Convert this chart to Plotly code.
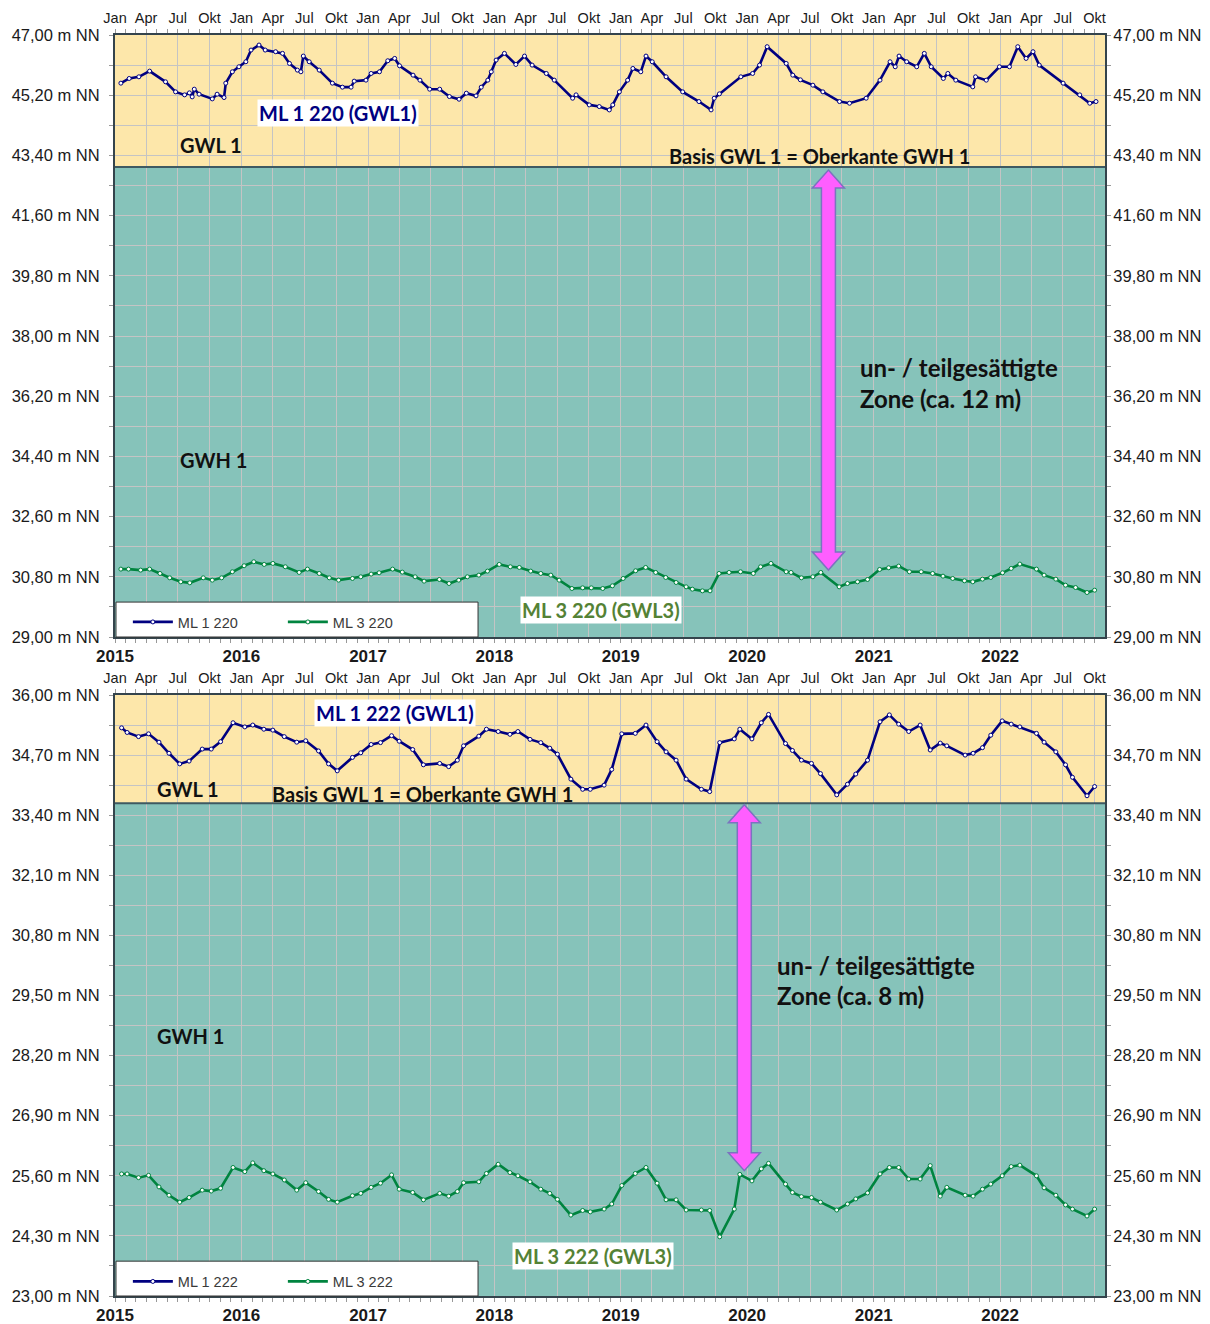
import pandas as pd
import plotly.graph_objects as go

# ---------------------------------------------------------------- data
# Messstelle 220: GWL 1 (ML 1 220, dichte Messreihe) und GWL 3 (ML 3 220, monatlich)
ml1_220_dates = [
    "2015-01-18", "2015-02-11", "2015-03-11", "2015-04-11", "2015-05-27", "2015-06-25",
    "2015-07-21", "2015-08-04", "2015-08-12", "2015-08-18", "2015-09-01", "2015-10-09",
    "2015-10-23", "2015-11-12", "2015-11-17", "2015-12-06", "2015-12-25", "2016-01-14",
    "2016-01-29", "2016-02-21", "2016-03-10", "2016-04-09", "2016-04-29", "2016-05-19",
    "2016-06-11", "2016-06-21", "2016-06-28", "2016-07-15", "2016-08-13", "2016-09-20",
    "2016-10-19", "2016-11-13", "2016-11-22", "2016-12-26", "2017-01-10", "2017-02-03",
    "2017-02-27", "2017-03-19", "2017-04-02", "2017-05-11", "2017-05-31", "2017-06-28",
    "2017-07-27", "2017-08-24", "2017-09-21", "2017-10-12", "2017-11-09", "2017-11-24",
    "2017-12-13", "2017-12-23", "2018-01-06", "2018-01-30", "2018-03-04", "2018-03-29",
    "2018-04-20", "2018-05-31", "2018-06-23", "2018-08-15", "2018-08-25", "2018-10-02",
    "2018-10-31", "2018-11-29", "2018-12-09", "2018-12-28", "2019-01-21", "2019-02-05",
    "2019-02-28", "2019-03-15", "2019-04-02", "2019-05-12", "2019-06-29", "2019-08-15",
    "2019-09-19", "2019-09-28", "2019-10-13", "2019-12-14", "2020-01-17", "2020-02-06",
    "2020-02-28", "2020-04-23", "2020-05-12", "2020-06-03", "2020-07-09", "2020-08-07",
    "2020-09-24", "2020-10-23", "2020-12-10", "2021-01-19", "2021-02-17", "2021-03-04",
    "2021-03-15", "2021-04-06", "2021-05-05", "2021-05-27", "2021-06-16", "2021-07-21",
    "2021-08-03", "2021-08-26", "2021-10-14", "2021-10-22", "2021-11-22", "2021-12-30",
    "2022-01-28", "2022-02-21", "2022-03-17", "2022-04-06", "2022-04-24", "2022-07-02",
    "2022-08-19", "2022-09-17", "2022-10-05",
]
ml1_220_values = [
    45.56, 45.70, 45.75, 45.92, 45.60, 45.30,
    45.21, 45.27, 45.15, 45.38, 45.23, 45.09,
    45.23, 45.13, 45.56, 45.90, 46.05, 46.20,
    46.55, 46.70, 46.55, 46.50, 46.45, 46.15,
    45.95, 45.90, 46.37, 46.20, 45.95, 45.56,
    45.44, 45.44, 45.62, 45.65, 45.85, 45.90,
    46.23, 46.30, 46.08, 45.80, 45.65, 45.38,
    45.38, 45.16, 45.08, 45.26, 45.18, 45.44,
    45.65, 45.90, 46.25, 46.45, 46.12, 46.37,
    46.10, 45.85, 45.65, 45.11, 45.21, 44.91,
    44.86, 44.76, 44.91, 45.30, 45.65, 46.00,
    45.90, 46.37, 46.20, 45.75, 45.30, 45.01,
    44.76, 45.11, 45.24, 45.75, 45.85, 46.10,
    46.65, 46.15, 45.80, 45.66, 45.50, 45.30,
    45.01, 44.96, 45.11, 45.65, 46.20, 46.05,
    46.37, 46.20, 46.05, 46.45, 46.05, 45.70,
    45.85, 45.65, 45.45, 45.75, 45.65, 46.05,
    46.05, 46.65, 46.30, 46.50, 46.10, 45.56,
    45.21, 44.96, 45.01,
]

ml3_220_dates = [
    "2015-01-18", "2015-02-09", "2015-03-16", "2015-04-11", "2015-05-11", "2015-06-08",
    "2015-07-10", "2015-08-05", "2015-09-13", "2015-10-09", "2015-11-05", "2015-12-06",
    "2016-01-09", "2016-02-06", "2016-03-07", "2016-04-01", "2016-05-07", "2016-06-16",
    "2016-07-10", "2016-08-13", "2016-09-11", "2016-10-08", "2016-11-17", "2016-12-11",
    "2017-01-10", "2017-02-02", "2017-03-13", "2017-04-10", "2017-05-17", "2017-06-12",
    "2017-07-26", "2017-08-23", "2017-09-20", "2017-10-15", "2017-11-17", "2017-12-12",
    "2018-01-15", "2018-02-16", "2018-03-14", "2018-04-16", "2018-05-15", "2018-06-13",
    "2018-07-07", "2018-08-13", "2018-09-13", "2018-10-08", "2018-11-10", "2018-12-08",
    "2019-01-08", "2019-02-13", "2019-03-14", "2019-04-12", "2019-05-11", "2019-06-10",
    "2019-07-09", "2019-07-27", "2019-08-25", "2019-09-16", "2019-10-12", "2019-11-10",
    "2019-12-13", "2020-01-19", "2020-02-09", "2020-03-10", "2020-04-23", "2020-05-07",
    "2020-06-06", "2020-07-09", "2020-08-01", "2020-09-23", "2020-10-17", "2020-11-15",
    "2020-12-14", "2021-01-18", "2021-02-13", "2021-03-14", "2021-04-14", "2021-05-18",
    "2021-06-20", "2021-07-20", "2021-08-17", "2021-09-20", "2021-10-14", "2021-11-11",
    "2021-12-05", "2022-01-08", "2022-02-02", "2022-02-27", "2022-04-16", "2022-05-08",
    "2022-06-11", "2022-07-09", "2022-08-07", "2022-09-09", "2022-10-01",
]
ml3_220_values = [
    31.03, 31.03, 31.00, 31.03, 30.90, 30.77,
    30.65, 30.62, 30.77, 30.70, 30.77, 30.95,
    31.13, 31.25, 31.17, 31.20, 31.10, 30.93,
    31.03, 30.90, 30.77, 30.70, 30.75, 30.80,
    30.88, 30.92, 31.03, 30.94, 30.80, 30.67,
    30.72, 30.60, 30.70, 30.80, 30.85, 30.97,
    31.17, 31.10, 31.08, 30.97, 30.90, 30.85,
    30.70, 30.45, 30.47, 30.47, 30.45, 30.53,
    30.75, 30.98, 31.08, 30.93, 30.78, 30.63,
    30.50, 30.43, 30.38, 30.38, 30.90, 30.93,
    30.95, 30.90, 31.10, 31.20, 30.95, 30.93,
    30.77, 30.80, 30.93, 30.50, 30.60, 30.65,
    30.72, 31.02, 31.07, 31.12, 30.95, 30.95,
    30.90, 30.82, 30.75, 30.68, 30.65, 30.73,
    30.78, 30.92, 31.05, 31.18, 31.03, 30.85,
    30.73, 30.55, 30.48, 30.33, 30.40,
]

# Messstelle 222: gemeinsame Stichtage für GWL 1 und GWL 3
ml_222_dates = [
    "2015-01-20", "2015-02-05", "2015-03-10", "2015-04-08", "2015-05-08", "2015-06-06",
    "2015-07-07", "2015-08-03", "2015-09-10", "2015-10-06", "2015-11-02", "2015-12-08",
    "2016-01-11", "2016-02-03", "2016-03-06", "2016-04-01", "2016-05-04", "2016-06-09",
    "2016-07-05", "2016-08-11", "2016-09-09", "2016-10-04", "2016-11-17", "2016-12-11",
    "2017-01-10", "2017-02-06", "2017-03-10", "2017-04-01", "2017-05-10", "2017-06-10",
    "2017-07-27", "2017-08-22", "2017-09-16", "2017-10-04", "2017-11-17", "2017-12-09",
    "2018-01-12", "2018-02-15", "2018-03-10", "2018-04-14", "2018-05-15", "2018-06-10",
    "2018-07-02", "2018-08-10", "2018-09-13", "2018-10-05", "2018-11-14", "2018-12-06",
    "2019-01-04", "2019-02-12", "2019-03-15", "2019-04-16", "2019-05-12", "2019-06-10",
    "2019-07-09", "2019-08-22", "2019-09-15", "2019-10-14", "2019-11-25", "2019-12-11",
    "2020-01-15", "2020-02-11", "2020-03-03", "2020-04-21", "2020-05-11", "2020-06-06",
    "2020-07-05", "2020-07-31", "2020-09-16", "2020-10-17", "2020-11-10", "2020-12-14",
    "2021-01-19", "2021-02-15", "2021-03-14", "2021-04-12", "2021-05-15", "2021-06-13",
    "2021-07-12", "2021-07-31", "2021-09-22", "2021-10-15", "2021-11-11", "2021-12-05",
    "2022-01-07", "2022-02-02", "2022-02-27", "2022-04-16", "2022-05-08", "2022-06-11",
    "2022-07-09", "2022-07-29", "2022-09-09", "2022-10-01",
]
ml1_222_values = [
    35.29, 35.19, 35.10, 35.16, 34.98, 34.74,
    34.51, 34.57, 34.83, 34.83, 34.99, 35.40,
    35.31, 35.35, 35.26, 35.24, 35.10, 34.98,
    35.01, 34.79, 34.51, 34.36, 34.65, 34.75,
    34.93, 34.97, 35.12, 35.00, 34.82, 34.49,
    34.52, 34.45, 34.59, 34.90, 35.11, 35.26,
    35.21, 35.15, 35.21, 35.04, 34.97, 34.85,
    34.72, 34.18, 33.96, 33.96, 34.05, 34.39,
    35.16, 35.17, 35.35, 34.99, 34.77, 34.59,
    34.18, 33.96, 33.91, 34.97, 35.05, 35.26,
    35.05, 35.40, 35.58, 34.95, 34.80, 34.59,
    34.52, 34.30, 33.84, 34.07, 34.29, 34.59,
    35.42, 35.57, 35.37, 35.21, 35.35, 34.81,
    34.96, 34.90, 34.70, 34.74, 34.86, 35.13,
    35.44, 35.37, 35.31, 35.17, 34.98, 34.77,
    34.49, 34.22, 33.82, 34.02,
]
ml3_222_values = [
    25.64, 25.64, 25.56, 25.61, 25.36, 25.18,
    25.03, 25.13, 25.29, 25.27, 25.33, 25.78,
    25.69, 25.88, 25.71, 25.64, 25.51, 25.29,
    25.45, 25.26, 25.09, 25.03, 25.17, 25.22,
    25.35, 25.44, 25.62, 25.31, 25.24, 25.08,
    25.22, 25.16, 25.26, 25.45, 25.47, 25.65,
    25.85, 25.67, 25.60, 25.47, 25.31, 25.22,
    25.09, 24.75, 24.85, 24.82, 24.88, 24.99,
    25.39, 25.65, 25.78, 25.44, 25.08, 25.08,
    24.86, 24.86, 24.85, 24.28, 24.88, 25.63,
    25.49, 25.75, 25.87, 25.42, 25.24, 25.15,
    25.13, 25.03, 24.86, 24.99, 25.10, 25.23,
    25.64, 25.78, 25.78, 25.53, 25.53, 25.82,
    25.16, 25.35, 25.18, 25.16, 25.31, 25.42,
    25.60, 25.80, 25.83, 25.60, 25.34, 25.18,
    24.97, 24.88, 24.73, 24.88,
]

# Basis GWL 1 = Oberkante GWH 1
basis_220 = 43.05
basis_222 = 33.66

# Achsen
year_labels = ["2015", "2016", "2017", "2018", "2019", "2020", "2021", "2022"]
month_names = {1: "Jan", 4: "Apr", 7: "Jul", 10: "Okt"}
y_range_220 = [29.0, 47.0]
y_step_220 = 0.9
y_range_222 = [23.0, 36.0]
y_step_222 = 0.65

# ---------------------------------------------------------------- style
NAVY = "#000080"
GREEN = "#00843F"
BEIGE = "#FDE7AA"
TEAL = "#86C3BA"
GRID = "#C4C4C4"
FRAME = "#34444C"
AXIS_FONT = "Liberation Sans"
TEXT_FONT = "Lato"

X_RANGE = ["2015-01-01", "2022-10-31"]
x_years = [f"{y}-01-01" for y in year_labels]
x_quarters = pd.date_range("2015-01-01", "2022-10-01", freq="QS")
x_months = pd.date_range("2015-01-01", "2022-10-01", freq="MS")
quarter_text = [month_names[d.month] for d in x_quarters]


def y_ticks(lo, hi, step):
    n = int(round((hi - lo) / step))
    vals = [round(lo + i * step, 2) for i in range(n + 1)]
    text = [(f"{v:.2f}".replace(".", ",") + " m NN") if i % 2 == 0 else "" for i, v in enumerate(vals)]
    return vals, text


fig = go.Figure()

# ---------------------------------------------------------------- traces
def series(x, y, name, color, xa, ya, legend):
    fig.add_trace(go.Scatter(
        x=x, y=y, name=name, mode="lines+markers",
        xaxis=xa, yaxis=ya, legend=legend,
        line=dict(color=color, width=2.6),
        marker=dict(symbol="circle", size=4, color="white", line=dict(color=color, width=1)),
        hoverinfo="skip",
    ))


series(ml1_220_dates, ml1_220_values, "ML 1 220", NAVY, "x", "y", "legend")
series(ml3_220_dates, ml3_220_values, "ML 3 220", GREEN, "x", "y", "legend")
series(ml_222_dates, ml1_222_values, "ML 1 222", NAVY, "x2", "y2", "legend2")
series(ml_222_dates, ml3_222_values, "ML 3 222", GREEN, "x2", "y2", "legend2")

# empty traces that bind the secondary axes (month labels on top, labels on the right)
for xa, ya in (("x3", "y3"), ("x4", "y4")):
    fig.add_trace(go.Scatter(x=[], y=[], xaxis=xa, yaxis=ya, showlegend=False,
                             hoverinfo="skip", mode="lines"))

# ---------------------------------------------------------------- axes
D1 = [1 - 602 / 1261, 1.0]
D2 = [0.0, 601 / 1261]

line_kw = dict(showline=True, linecolor=FRAME, linewidth=2, zeroline=False)

bottom_x = dict(
    type="date", range=X_RANGE, tickmode="array", tickvals=x_years,
    ticktext=[f"<b>{y}</b>" for y in year_labels],
    ticks="outside", ticklen=4, tickcolor="#999999", ticklabelstandoff=-1,
    tickfont=dict(family=AXIS_FONT, size=17, color="#1A1A1A"),
    minor=dict(tickvals=list(x_months), ticks="outside", ticklen=4, tickcolor="#999999", showgrid=False),
    showgrid=False, **line_kw,
)
top_x = dict(
    type="date", range=X_RANGE, side="top", tickmode="array", tickvals=list(x_quarters),
    ticktext=quarter_text, ticks="outside", ticklen=4, tickcolor="#999999",
    tickfont=dict(family=AXIS_FONT, size=14.5, color="#1A1A1A"),
    minor=dict(tickvals=list(x_months), ticks="outside", ticklen=4, tickcolor="#999999", showgrid=False),
    showgrid=True, gridcolor=GRID, gridwidth=1, **line_kw,
)


def y_axis(rng, step, side, grid):
    vals, text = y_ticks(rng[0], rng[1], step)
    return dict(
        range=rng, tickmode="array", tickvals=vals, ticktext=text, side=side,
        ticks="outside", ticklen=4, tickcolor="#999999",
        ticklabelstandoff=6 if side == "left" else -1,
        tickfont=dict(family=AXIS_FONT, size=16.5, color="#1A1A1A"),
        showgrid=grid, gridcolor=GRID, gridwidth=1, **line_kw,
    )


fig.update_layout(
    xaxis=dict(domain=[0, 1], anchor="y", **bottom_x),
    xaxis2=dict(domain=[0, 1], anchor="y2", **bottom_x),
    xaxis3=dict(overlaying="x", anchor="y", **top_x),
    xaxis4=dict(overlaying="x2", anchor="y2", **top_x),
    yaxis=dict(domain=D1, anchor="x", **y_axis(y_range_220, y_step_220, "left", True)),
    yaxis2=dict(domain=D2, anchor="x2", **y_axis(y_range_222, y_step_222, "left", True)),
    yaxis3=dict(overlaying="y", anchor="x", **y_axis(y_range_220, y_step_220, "right", False)),
    yaxis4=dict(overlaying="y2", anchor="x2", **y_axis(y_range_222, y_step_222, "right", False)),
)

# ---------------------------------------------------------------- zones, frames, arrows
shapes = []
for ya, basis, top in (("y", basis_220, y_range_220[1]), ("y2", basis_222, y_range_222[1])):
    xd = "x domain" if ya == "y" else "x2 domain"
    shapes.append(dict(type="rect", xref=xd, yref=ya, x0=0, x1=1, y0=basis, y1=top,
                       fillcolor=BEIGE, line=dict(width=0), layer="below"))
    shapes.append(dict(type="line", xref=xd, yref=ya, x0=0, x1=1, y0=basis, y1=basis,
                       line=dict(color="#3E5A62", width=2), layer="above"))
    # white legend box in the lower left corner
    shapes.append(dict(type="rect", xref=xd, yref=f"{ya} domain", x0=0.001, x1=0.3667,
                       y0=0.0, y1=0.058, fillcolor="white",
                       line=dict(color="#333333", width=1), layer="above"))


def double_arrow(xa, ya, x_center, y_center, half_len):
    hw, sw, hh = 16, 7, 18
    h = half_len
    pts = [(0, h), (hw, h - hh), (sw, h - hh), (sw, -h + hh), (hw, -h + hh), (0, -h),
           (-hw, -h + hh), (-sw, -h + hh), (-sw, h - hh), (-hw, h - hh)]
    path = "M " + " L ".join(f"{px},{py}" for px, py in pts) + " Z"
    return dict(type="path", xref=xa, yref=ya, xsizemode="pixel", ysizemode="pixel",
                xanchor=x_center, yanchor=y_center, path=path,
                fillcolor="#FF5EFF", line=dict(color="#7A74BE", width=1.5), layer="above")


shapes.append(double_arrow("x", "y", "2020-08-23", 36.98, 200))
shapes.append(double_arrow("x2", "y2", "2019-12-24", 29.67, 183))

# ---------------------------------------------------------------- labels
def label(text, xd, yd, px, py, color="#111111", bg=None, size=20):
    return dict(
        text=f"<b>{text}</b>", xref=xd, yref=yd, x=px, y=py,
        xanchor="left", yanchor="middle", showarrow=False,
        font=dict(family=TEXT_FONT, size=size, color=color),
        bgcolor=bg, borderpad=1,
    )


annotations = [
    label("ML 1 220 (GWL1)", "x domain", "y domain", 0.1434, 0.8704, NAVY, "white"),
    label("GWL 1", "x domain", "y domain", 0.0636, 0.8173),
    label("Basis GWL 1 = Oberkante GWH 1", "x domain", "y domain", 0.5576, 0.799),
    label("GWH 1", "x domain", "y domain", 0.0636, 0.294),
    label("un- / teilgesättigte", "x domain", "y domain", 0.7505, 0.4485, size=24),
    label("Zone (ca. 12 m)", "x domain", "y domain", 0.7505, 0.397, size=24),
    label("ML 3 220 (GWL3)", "x domain", "y domain", 0.4091, 0.0449, "#548235", "white"),
    label("ML 1 222 (GWL1)", "x2 domain", "y2 domain", 0.201, 0.970, NAVY, "white"),
    label("GWL 1", "x2 domain", "y2 domain", 0.0404, 0.8436),
    label("Basis GWL 1 = Oberkante GWH 1", "x2 domain", "y2 domain", 0.1566, 0.8353),
    label("GWH 1", "x2 domain", "y2 domain", 0.0404, 0.4326),
    label("un- / teilgesättigte", "x2 domain", "y2 domain", 0.6667, 0.5507, size=24),
    label("Zone (ca. 8 m)", "x2 domain", "y2 domain", 0.6667, 0.4992, size=24),
    label("ML 3 222 (GWL3)", "x2 domain", "y2 domain", 0.401, 0.0666, "#548235", "white"),
]

legend_kw = dict(
    orientation="h", xanchor="left", yanchor="middle", x=0.013,
    bgcolor="rgba(0,0,0,0)", borderwidth=0, itemwidth=40,
    font=dict(family=AXIS_FONT, size=14.5, color="#3A3A3A"),
    entrywidth=100, entrywidthmode="pixels", itemclick=False, itemdoubleclick=False,
)

fig.update_layout(
    width=1210, height=1324,
    margin=dict(l=115, r=105, t=35, b=28, autoexpand=False),
    paper_bgcolor="white", plot_bgcolor=TEAL,
    shapes=shapes, annotations=annotations,
    showlegend=True,
    legend=dict(y=0.5345, **legend_kw),
    legend2=dict(y=0.0115, **legend_kw),
)

fig.write_html("out.html")
